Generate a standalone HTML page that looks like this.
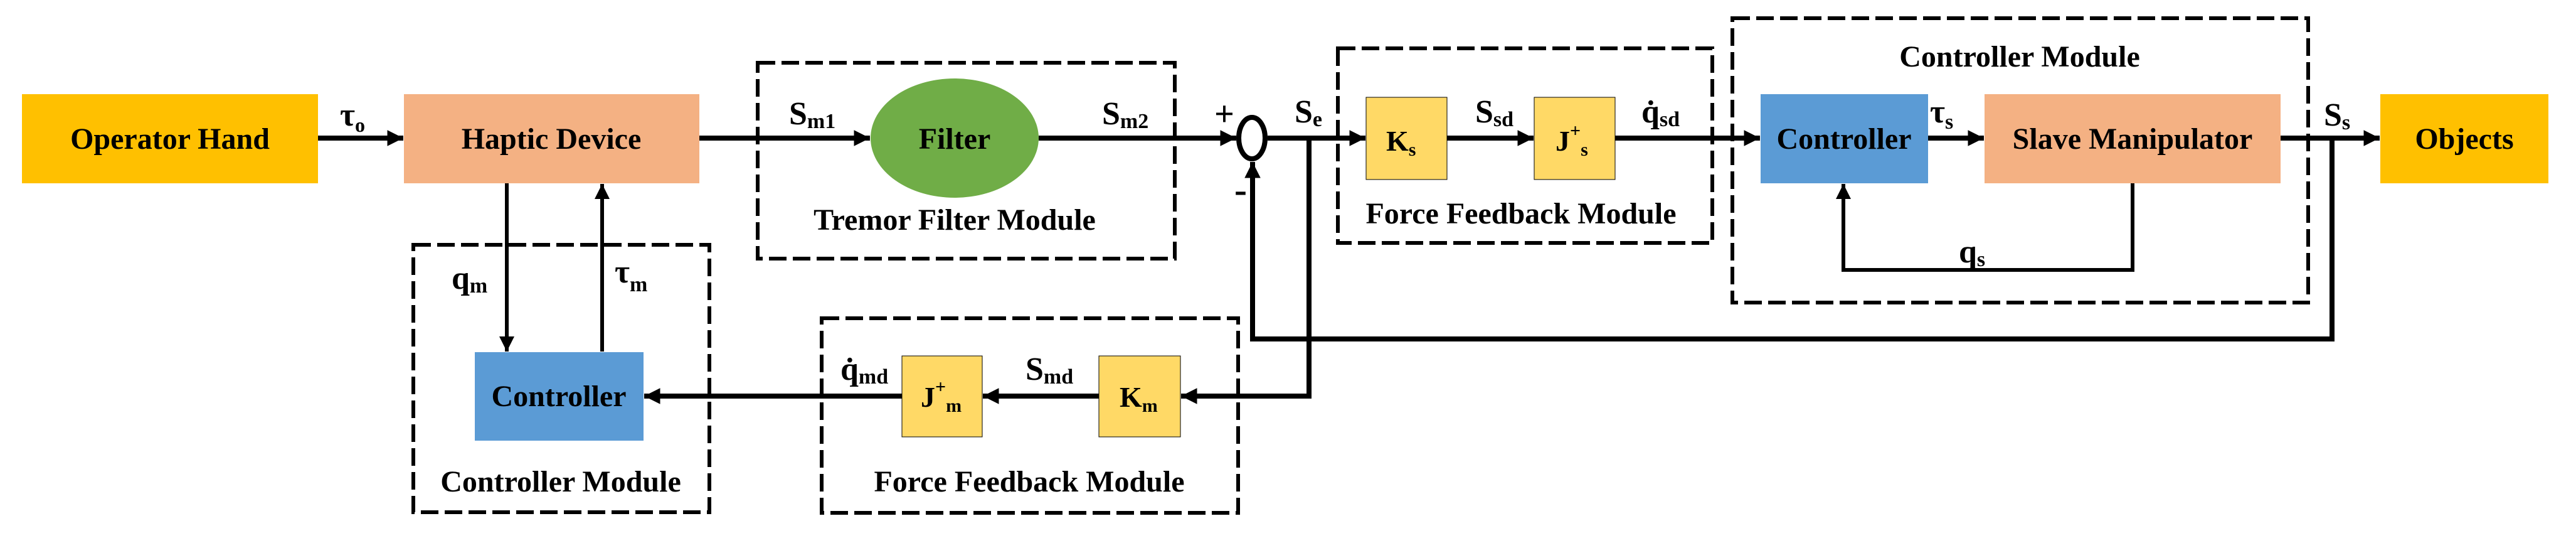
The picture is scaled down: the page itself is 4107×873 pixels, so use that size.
<!DOCTYPE html>
<html><head><meta charset="utf-8"><style>
html,body{margin:0;padding:0;background:#fff}
svg{display:block}
text{font-family:"Liberation Serif","Times New Roman",serif;font-weight:bold;fill:#000}
</style></head><body>
<svg width="4107" height="873" viewBox="0 0 4107 873" xmlns="http://www.w3.org/2000/svg" font-family="Liberation Serif, serif" font-weight="bold">
<defs>
<marker id="a" viewBox="0 0 10 10" refX="10" refY="5" markerWidth="3.2" markerHeight="3.2" orient="auto" markerUnits="strokeWidth"><path d="M0,0L10,5L0,10z" fill="#000"/></marker>
<marker id="b" viewBox="0 0 10 10" refX="10" refY="5" markerWidth="5" markerHeight="4" orient="auto" markerUnits="strokeWidth"><path d="M0,0L10,5L0,10z" fill="#000"/></marker>
</defs>
<g fill="none" stroke="#000" stroke-width="6" stroke-dasharray="28 10">
<rect x="1208" y="100" width="665" height="312"/>
<rect x="659" y="390" width="472" height="426"/>
<rect x="1310" y="507" width="664" height="310"/>
<rect x="2133" y="77" width="597" height="310"/>
<rect x="2762" y="29" width="918" height="453"/>
</g>
<rect x="35" y="150" width="472" height="142" fill="#FFC000"/>
<rect x="644" y="150" width="471" height="142" fill="#F4B183"/>
<ellipse cx="1522" cy="220" rx="134" ry="95" fill="#70AD47"/>
<rect x="757" y="561" width="269" height="141" fill="#5B9BD5"/>
<rect x="1438" y="567" width="128" height="129" fill="#FFD966" stroke="#000" stroke-width="1"/>
<rect x="1752" y="567" width="130" height="129" fill="#FFD966" stroke="#000" stroke-width="1"/>
<rect x="2178" y="155" width="129" height="131" fill="#FFD966" stroke="#000" stroke-width="1"/>
<rect x="2446" y="155" width="129" height="131" fill="#FFD966" stroke="#000" stroke-width="1"/>
<rect x="2807" y="150" width="267" height="142" fill="#5B9BD5"/>
<rect x="3164" y="150" width="472" height="142" fill="#F4B183"/>
<rect x="3795" y="150" width="268" height="142" fill="#FFC000"/>
<ellipse cx="1996" cy="220" rx="21" ry="33" fill="none" stroke="#000" stroke-width="8"/>
<g fill="none" stroke="#000" stroke-width="8">
<line x1="507" y1="220" x2="643" y2="220" marker-end="url(#a)"/>
<line x1="1115" y1="220" x2="1387" y2="220" marker-end="url(#a)"/>
<line x1="1656" y1="220" x2="1971" y2="220" marker-end="url(#a)"/>
<line x1="2021" y1="220" x2="2177" y2="220" marker-end="url(#a)"/>
<line x1="2307" y1="220" x2="2445" y2="220" marker-end="url(#a)"/>
<line x1="2575" y1="220" x2="2806" y2="220" marker-end="url(#a)"/>
<line x1="3074" y1="220" x2="3163" y2="220" marker-end="url(#a)"/>
<line x1="3636" y1="220" x2="3794" y2="220" marker-end="url(#a)"/>
<line x1="1752" y1="631" x2="1567" y2="631" marker-end="url(#a)"/>
<line x1="1438" y1="631" x2="1027" y2="631" marker-end="url(#a)"/>
<polyline points="2087,220 2087,631 1883,631" marker-end="url(#a)"/>
<polyline points="3718,220 3718,540 1997,540 1997,258" marker-end="url(#a)"/>
</g>
<g fill="none" stroke="#000" stroke-width="6">
<line x1="808" y1="292" x2="808" y2="560" marker-end="url(#b)"/>
<line x1="960" y1="560" x2="960" y2="293" marker-end="url(#b)"/>
<polyline points="3400,292 3400,430 2939,430 2939,293" marker-end="url(#b)"/>
</g>
<g font-size="48" text-anchor="middle">
<text x="271" y="237">Operator Hand</text>
<text x="879" y="237">Haptic Device</text>
<text x="1522" y="237">Filter</text>
<text x="891" y="647">Controller</text>
<text x="2940" y="237">Controller</text>
<text x="3400" y="237">Slave Manipulator</text>
<text x="3929" y="237">Objects</text>
<text x="1522" y="366">Tremor Filter Module</text>
<text x="894" y="783">Controller Module</text>
<text x="1641" y="783">Force Feedback Module</text>
<text x="2425" y="356">Force Feedback Module</text>
<text x="3220" y="106">Controller Module</text>
</g>
<g font-size="52">
<text x="542" y="200">τ<tspan font-size="32" dy="10">o</tspan></text>
<text x="1258" y="198">S<tspan font-size="34" dy="6">m1</tspan></text>
<text x="1757" y="198">S<tspan font-size="34" dy="6">m2</tspan></text>
<text x="1936" y="200" font-size="56">+</text>
<text x="1968" y="322" font-size="60">-</text>
<text x="2064" y="195">S<tspan font-size="34" dy="6">e</tspan></text>
<text x="2352" y="195">S<tspan font-size="34" dy="6">sd</tspan></text>
<text x="2617" y="195">q̇<tspan font-size="34" dy="6">sd</tspan></text>
<text x="3077" y="195">τ<tspan font-size="34" dy="10">s</tspan></text>
<text x="3123" y="418">q<tspan font-size="34" dy="6">s</tspan></text>
<text x="3705" y="200">S<tspan font-size="34" dy="6">s</tspan></text>
<text x="720" y="460">q<tspan font-size="34" dy="6">m</tspan></text>
<text x="980" y="450">τ<tspan font-size="34" dy="14">m</tspan></text>
<text x="1340" y="605">q̇<tspan font-size="34" dy="6">md</tspan></text>
<text x="1635" y="605">S<tspan font-size="34" dy="6">md</tspan></text>
<text x="2210" y="240" font-size="46">K<tspan font-size="30" dy="8">s</tspan></text>
<text x="2480" y="240" font-size="46">J<tspan font-size="30" dy="-22">+</tspan><tspan font-size="30" dy="30">s</tspan></text>
<text x="1785" y="648" font-size="46">K<tspan font-size="30" dy="8">m</tspan></text>
<text x="1468" y="648" font-size="46">J<tspan font-size="30" dy="-22">+</tspan><tspan font-size="30" dy="30">m</tspan></text>
</g>
</svg>
</body></html>
